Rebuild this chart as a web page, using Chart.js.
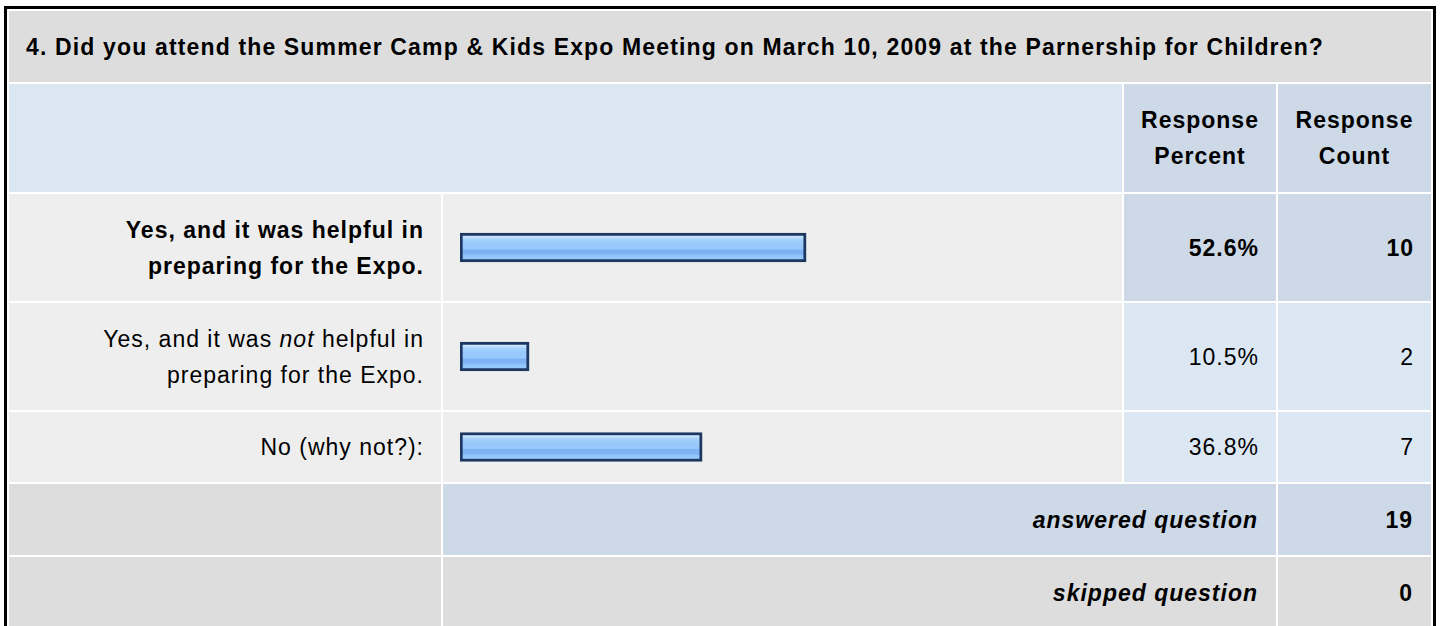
<!DOCTYPE html>
<html>
<head>
<meta charset="utf-8">
<script src="https://cdn.jsdelivr.net/npm/chart.js@4.4.1/dist/chart.umd.min.js"></script>
<style>
  html, body { margin: 0; padding: 0; background: #fff; overflow: hidden; }
  body { width: 1440px; height: 626px; font-family: "Liberation Sans", Arial, sans-serif; color: #000; }
  #wrap { position: absolute; left: 4px; top: 6px; border: 3px solid #000; border-bottom: none; background: #fff; }
  table { border-collapse: separate; border-spacing: 2px; table-layout: fixed; }
  td { padding: 0; font-size: 23px; letter-spacing: 1px; line-height: 36px; vertical-align: middle; box-sizing: border-box; }
  .title { background: #dddddd; font-weight: bold; padding-left: 17px; height: 71px; letter-spacing: 1.15px; }
  .hdr { background: #dce7f4; height: 108px; }
  .hdr-col { background: #cdd9e6; font-weight: bold; text-align: center; }
  .lbl { background: #eeeeee; text-align: right; padding: 0 17px 0 17px; }
  .bar { background: #eeeeee; }
  .num { background: #dce7f4; text-align: right; padding-right: 17px; }
  .top .lbl, .top .num { font-weight: bold; }
  .top .num { background: #cdd9e6; }
  .sum-lbl { background: #dddddd; }
  .sum { text-align: right; padding-right: 18px; font-weight: bold; height: 71px; }
  .sum i { font-style: italic; }
  .ans { background: #cdd9e6; }
  .skp { background: #dddddd; }
  .box { position: relative; width: 679px; }
</style>
</head>
<body>
<div id="wrap">
  <table id="tbl">
    <colgroup>
      <col style="width:432px"><col style="width:679px"><col style="width:152px"><col style="width:153px">
    </colgroup>
    <tbody id="body"></tbody>
  </table>
</div>
<script>
// question and answer data
const question = '4. Did you attend the Summer Camp & Kids Expo Meeting on March 10, 2009 at the Parnership for Children?';
const categories = [
  'Yes, and it was helpful in preparing for the Expo.',
  'Yes, and it was <i>not</i> helpful in preparing for the Expo.',
  'No (why not?):'
];
const percents = [52.6, 10.5, 36.8];
const counts = [10, 2, 7];
const answeredCount = 19;
const skippedCount = 0;
const rowHeights = [107, 107, 70];

(function () {
  'use strict'

  var tbody = document.getElementById('body');
  var top = percents.indexOf(Math.max.apply(null, percents));

  var html = '';
  html += '<tr><td class="title" colspan="4">' + question.replace('&', '&amp;') + '</td></tr>';
  html += '<tr><td class="hdr" colspan="2"></td>' +
    '<td class="hdr hdr-col">Response Percent</td>' +
    '<td class="hdr hdr-col">Response Count</td></tr>';
  categories.forEach(function (c, i) {
    html += '<tr class="' + (i === top ? 'top' : '') + '" style="height:' + rowHeights[i] + 'px">' +
      '<td class="lbl">' + c + '</td>' +
      '<td class="bar"><div class="box" style="height:' + rowHeights[i] + 'px"><canvas id="bar' + i + '"></canvas></div></td>' +
      '<td class="num">' + percents[i].toFixed(1) + '%</td>' +
      '<td class="num">' + counts[i] + '</td></tr>';
  });
  html += '<tr><td class="sum-lbl"></td><td class="sum ans" colspan="2"><i>answered question</i></td><td class="sum ans">' + answeredCount + '</td></tr>';
  html += '<tr><td class="sum-lbl"></td><td class="sum skp" colspan="2"><i>skipped question</i></td><td class="sum skp">' + skippedCount + '</td></tr>';
  tbody.innerHTML = html;

  // glossy blue fill like the survey bars
  function barFill(context) {
    var chart = context.chart;
    var area = chart.chartArea;
    if (!area) return '#9ccbfc';
    var mid = (area.top + area.bottom) / 2;
    var g = chart.ctx.createLinearGradient(0, mid - 14.5, 0, mid + 14.5);
    g.addColorStop(0.00, '#d2e9fe');
    g.addColorStop(0.14, '#c6e2fd');
    g.addColorStop(0.22, '#a6d2fd');
    g.addColorStop(0.34, '#9acafc');
    g.addColorStop(0.55, '#97c7fc');
    g.addColorStop(0.60, '#7bb0f2');
    g.addColorStop(0.72, '#7eb3f4');
    g.addColorStop(0.78, '#8fc4fb');
    g.addColorStop(1.00, '#9ccdfd');
    return g;
  }

  categories.forEach(function (c, i) {
    var ctx = document.getElementById('bar' + i);
    new Chart(ctx, {
      type: 'bar',
      data: {
        labels: [c.replace(/<[^>]+>/g, '')],
        datasets: [{
          data: [percents[i]],
          backgroundColor: barFill,
          borderColor: '#1c3761',
          borderWidth: 3,
          borderSkipped: false,
          barThickness: 29
        }]
      },
      options: {
        indexAxis: 'y',
        responsive: true,
        maintainAspectRatio: false,
        animation: false,
        layout: { padding: { left: 17, right: 4, top: 0, bottom: 0 } },
        scales: {
          x: { display: false, min: 0, max: 100 },
          y: { display: false }
        },
        plugins: {
          legend: { display: false },
          tooltip: { enabled: false }
        }
      }
    });
  });
})()
</script>
</body>
</html>
